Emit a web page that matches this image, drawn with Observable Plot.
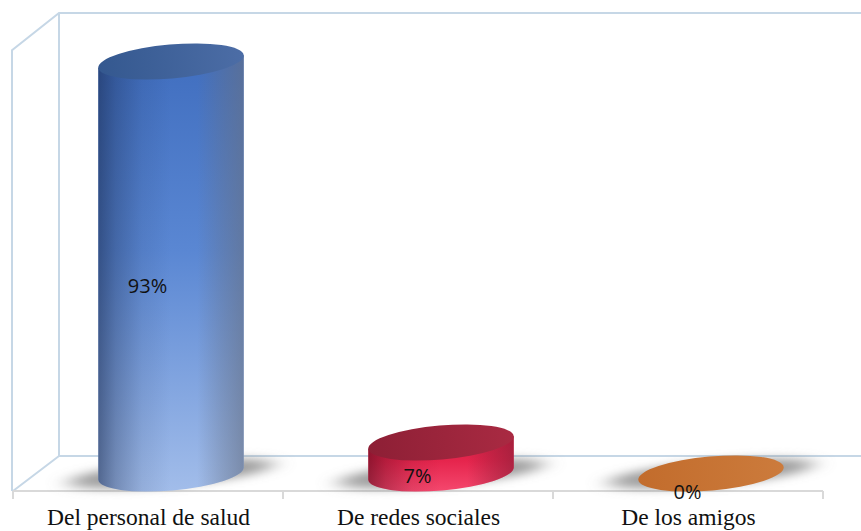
<!DOCTYPE html>
<html lang="es">
<head>
<meta charset="utf-8">
<style>
  html, body { margin: 0; background: #fff; }
  svg { display: block; }
</style>
<script src="https://cdn.jsdelivr.net/npm/d3@7"></script>
<script src="https://cdn.jsdelivr.net/npm/@observablehq/plot@0.6"></script>
</head>
<body>
<script>
// Survey answers: where the information came from, in percent
const categories = ["Del personal de salud", "De redes sociales", "De los amigos"];
const percents = [93, 7, 0];
const rows = categories.map((category, i) => ({category, percent: percents[i]}));

// Look of each cylinder: body (top to bottom), lid (left to right), edge shading
const looks = [
  {bodyTop: "#406ebf", bodyMid: "#5a87d3", bodyEnd: "#a2bdea", lidA: "#34588f", lidB: "#4c6da6", dark: "#16264a", sheen: "#667084"},
  {bodyTop: "#d41f42", bodyMid: "#e6254d", bodyEnd: "#f5486e", lidA: "#8d1f35", lidB: "#a92a42", dark: "#4e0a1a", sheen: "#8a1f38"},
  {bodyTop: "#c4702f", bodyMid: "#c4702f", bodyEnd: "#c4702f", lidA: "#c26c2c", lidB: "#cc7b3c", dark: "#5a2f10", sheen: "#8a5a30"}
];

// The 3D box: how far the back wall sits from the front plane
const depthX = 46, depthY = -35;
const wallColor = "#c6d7e6", floorColor = "#d9d9d9";
const radiusX = 73, radiusY = 17, tilt = -5;

function box(index, {x, y}) {
  const g = d3.create("svg:g").attr("fill", "none").attr("stroke-width", 2);
  const left = x(categories[0]);
  const right = x(categories[categories.length - 1]) + x.bandwidth();
  const base = y(0), top = y(100);
  g.append("path").attr("stroke", wallColor).attr("d",
    `M${left - 1},${base}V${y(99.5)}L${left + depthX},${top + depthY}H${right + depthX}` +
    `M${left + depthX},${top + depthY}V${base + depthY}H${right + depthX}` +
    `M${left},${base}L${left + depthX},${base + depthY}`);
  g.append("path").attr("stroke", floorColor).attr("d",
    `M${left},${base}H${right}` +
    d3.range(categories.length + 1).map(i => `M${left + i * x.bandwidth()},${base}v8`).join(""));
  return g.node();
}

function cylinders(index, {x, y}) {
  const g = d3.create("svg:g");
  const defs = g.append("defs");
  const blur = defs.append("filter").attr("id", "soft")
    .attr("x", "-40%").attr("y", "-150%").attr("width", "180%").attr("height", "400%");
  blur.append("feGaussianBlur").attr("stdDeviation", "11 5");

  const dx = radiusX * Math.cos(tilt * Math.PI / 180);
  const dy = radiusX * Math.sin(tilt * Math.PI / 180);
  const frontArc = (x1, y1) => `A${radiusX},${radiusY} ${tilt} 0 0 ${x1},${y1}`;

  for (const i of index) {
    const look = looks[i];
    const cx = x(rows[i].category) + x.bandwidth() / 2 + depthX / 2;
    const yBase = y(0) + depthY / 2;
    const yTop = y(rows[i].percent) + depthY / 2;

    const body = defs.append("linearGradient").attr("id", `body${i}`)
      .attr("x1", 0).attr("x2", 0).attr("y1", 0).attr("y2", 1);
    [[0, look.bodyTop], [.45, look.bodyMid], [1, look.bodyEnd]].forEach(([o, c]) =>
      body.append("stop").attr("offset", o).attr("stop-color", c));
    const lid = defs.append("linearGradient").attr("id", `lid${i}`);
    lid.append("stop").attr("offset", 0).attr("stop-color", look.lidA);
    lid.append("stop").attr("offset", 1).attr("stop-color", look.lidB);

    // Rounding of the shaft: dark on the left, a duller sheen on the right
    const shade = defs.append("linearGradient").attr("id", `shade${i}`);
    [[0, look.dark, .56], [.12, look.dark, .32], [.3, look.dark, .1], [.5, look.dark, 0],
     [.68, look.sheen, 0], [.85, look.sheen, .35], [1, look.sheen, .62]].forEach(([o, c, a]) =>
      shade.append("stop").attr("offset", o).attr("stop-color", c).attr("stop-opacity", a));

    // Soft shadow cast on the floor, wider than the cylinder
    g.append("ellipse")
      .attr("cx", cx).attr("cy", yBase)
      .attr("rx", radiusX + 30).attr("ry", 12)
      .attr("transform", `rotate(${tilt} ${cx} ${yBase})`)
      .attr("fill", "#787878").attr("fill-opacity", .72)
      .attr("filter", "url(#soft)");

    if (yBase - yTop > 0.5) {
      const d = `M${cx - dx},${yTop - dy}L${cx - dx},${yBase - dy}` +
        frontArc(cx + dx, yBase + dy) + `L${cx + dx},${yTop + dy}Z`;
      g.append("path").attr("d", d).attr("fill", `url(#body${i})`);
      g.append("path").attr("d", d).attr("fill", `url(#shade${i})`);
    }
    g.append("ellipse")
      .attr("cx", cx).attr("cy", yTop)
      .attr("rx", radiusX).attr("ry", radiusY)
      .attr("transform", `rotate(${tilt} ${cx} ${yTop})`)
      .attr("fill", `url(#lid${i})`);
  }
  return g.node();
}

const chart = Plot.plot({
  width: 861,
  height: 531,
  marginTop: 0,
  marginRight: 37,
  marginBottom: 40,
  marginLeft: 12,
  x: {type: "band", domain: categories, range: [12, 824], padding: 0, label: null},
  y: {domain: [0, 100], range: [491, 48], label: null, axis: null},
  marks: [
    box,
    Plot.barY(rows, {x: "category", y: "percent", render: cylinders}),
    Plot.text(rows, {
      x: "category",
      y: d => d.percent / 2,
      dx: -1,
      dy: 1,
      text: d => `${d.percent}%`,
      fontFamily: "Open Sans",
      fontSize: 20,
      fill: "#111"
    }),
    Plot.axisX({
      tickSize: 0,
      tickPadding: 17,
      fontFamily: "Liberation Serif",
      fontSize: 23.5,
      color: "#111",
      label: null
    })
  ]
});
document.body.append(chart);
</script>
</body>
</html>
